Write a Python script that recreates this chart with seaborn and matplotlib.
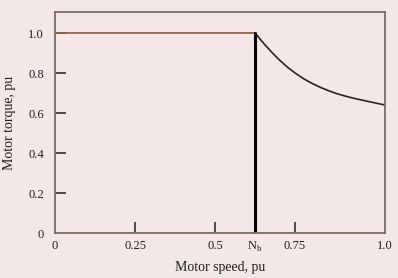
import numpy as np
import pandas as pd
import matplotlib
matplotlib.use("Agg")
import matplotlib.pyplot as plt
import seaborn as sns

sns.set_style("ticks")
plt.rcParams['font.family'] = ['Liberation Serif', 'DejaVu Serif']
plt.rcParams['mathtext.fontset'] = 'custom'
plt.rcParams['mathtext.rm'] = 'Liberation Serif'

# ---------------- data ----------------
const_torque_speed = [0.0, 0.625]
const_torque = [1.0, 1.0]
vline_speed = [0.625, 0.625]
vline_torque = [0.0, 1.0]
weak_speed = [0.625, 0.64, 0.656, 0.677, 0.698, 0.724, 0.75, 0.776, 0.802,
              0.828, 0.854, 0.88, 0.906, 0.932, 0.958, 0.995, 1.031]
weak_torque = [1.0, 0.971, 0.941, 0.904, 0.87, 0.832, 0.8, 0.772, 0.749,
               0.729, 0.712, 0.697, 0.685, 0.674, 0.665, 0.652, 0.64]

xtick_pos = [0, 0.25, 0.5, 0.625, 0.75, 1.031]
xtick_lab = ["0", "0.25", "0.5", r"N$_{\mathrm{b}}$", "0.75", "1.0"]
ytick_pos = [0, 0.2, 0.4, 0.6, 0.8, 1.0]
ytick_lab = ["0", "0.2", "0.4", "0.6", "0.8", "1.0"]

bg = '#f3e7e7'
frame_col = '#7d6b62'
text_col = '#231f1f'

fig = plt.figure(figsize=(3.98, 2.78), dpi=100, facecolor=bg)
ax = fig.add_axes([55/398, 45/278, 330/398, 221/278])
ax.set_facecolor(bg)

sns.lineplot(x=const_torque_speed, y=const_torque, color='#8a6650', linewidth=1.3,
             estimator=None, sort=False, ax=ax)
sns.lineplot(x=weak_speed, y=weak_torque, color='#2a2424', linewidth=1.2,
             estimator=None, sort=False, ax=ax)
sns.lineplot(x=vline_speed, y=vline_torque, color='#000000', linewidth=2.2,
             estimator=None, sort=False, ax=ax)

ax.set_xlim(0, 1.031)
ax.set_ylim(0, 1.105)

ax.set_xticks(xtick_pos)
ax.set_xticklabels(xtick_lab)
ax.set_yticks(ytick_pos)
ax.set_yticklabels(ytick_lab)

ax.tick_params(axis='both', direction='in', length=8, width=1.1, color='#231f1f',
               labelsize=9, labelcolor=text_col)
ax.tick_params(axis='x', pad=5)
ax.tick_params(axis='y', pad=8)

# only interior tick marks are drawn
for i, t in enumerate(ax.xaxis.get_major_ticks()):
    if i in (0, 3, 5):
        t.tick1line.set_visible(False)
for i, t in enumerate(ax.yaxis.get_major_ticks()):
    if i == 0:
        t.tick1line.set_visible(False)

for spine in ax.spines.values():
    spine.set_visible(True)
    spine.set_edgecolor(frame_col)
    spine.set_linewidth(1.3)

ax.set_xlabel("Motor speed, pu", fontsize=10, color=text_col, labelpad=5)
ax.set_ylabel("Motor torque, pu", fontsize=10, color=text_col, labelpad=9)

fig.savefig("out.png", dpi=100, facecolor=bg)
